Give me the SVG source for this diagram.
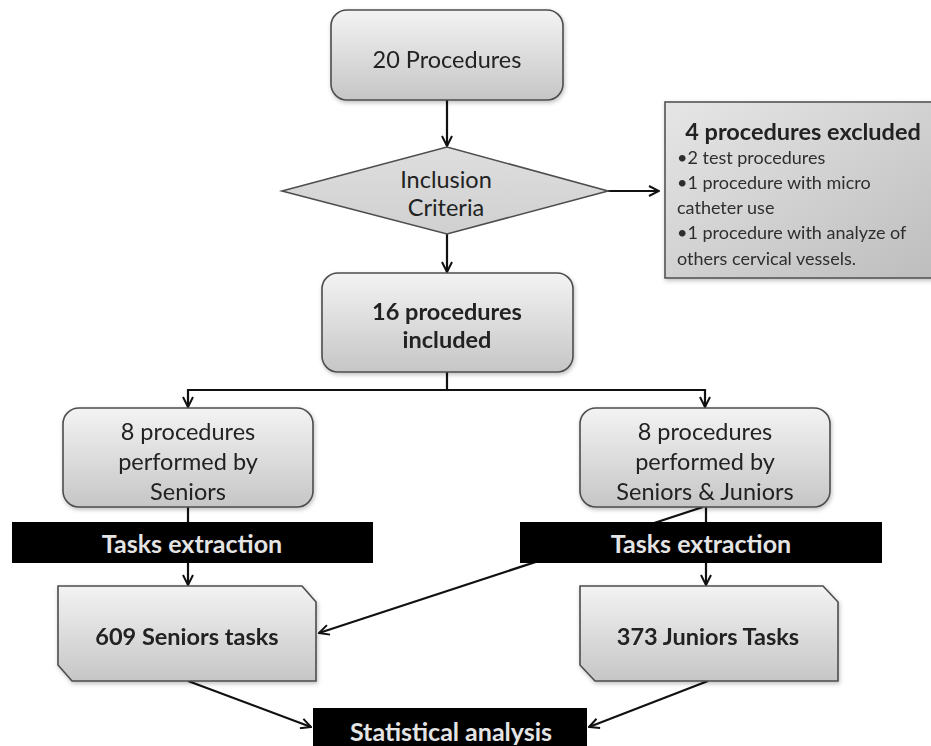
<svg xmlns="http://www.w3.org/2000/svg" width="931" height="746" viewBox="0 0 931 746">
<style>
.box{fill:url(#g);stroke:#4d4d4d;stroke-width:1.6}
.exc{fill:url(#g2);stroke:#555;stroke-width:1.6}
.dia{fill:url(#g3);stroke:#4d4d4d;stroke-width:1.6}
.bar{fill:#000}
.t{font-family:Lato,"Liberation Sans",sans-serif;font-size:23.5px;fill:#222;text-anchor:middle}
.b{font-weight:bold}
.w{font-family:Lato,"Liberation Sans",sans-serif;font-size:25px;font-weight:bold;fill:#e4e4e4;text-anchor:middle}
.s{font-family:Lato,"Liberation Sans",sans-serif;font-size:18px;fill:#2e2e2e}
.c{fill:none;stroke:#111;stroke-width:2.2}
</style>
<defs>
<linearGradient id="g" x1="0" y1="0" x2="0" y2="1">
<stop offset="0" stop-color="#f3f3f3"/><stop offset="1" stop-color="#c6c6c6"/>
</linearGradient>
<linearGradient id="g2" x1="0" y1="0" x2="1" y2="1">
<stop offset="0" stop-color="#e6e6e6"/><stop offset="1" stop-color="#bdbdbd"/>
</linearGradient>
<linearGradient id="g3" x1="0" y1="0" x2="0" y2="1">
<stop offset="0" stop-color="#dedede"/><stop offset="1" stop-color="#d0d0d0"/>
</linearGradient>
<filter id="sh" x="-10%" y="-10%" width="120%" height="130%">
<feDropShadow dx="1" dy="2" stdDeviation="2" flood-color="#000" flood-opacity="0.25"/>
</filter>
<marker id="a" viewBox="0 0 12 12" refX="11" refY="6" markerWidth="12" markerHeight="12" markerUnits="userSpaceOnUse" orient="auto">
<path d="M1,1 L11,6 L1,11" fill="none" stroke="#111" stroke-width="2"/>
</marker>
</defs>
<g id="connectors">
<line class="c" x1="447" y1="100" x2="447" y2="146" marker-end="url(#a)"/>
<line class="c" x1="608" y1="191" x2="659" y2="191" marker-end="url(#a)"/>
<line class="c" x1="447" y1="234" x2="447" y2="272" marker-end="url(#a)"/>
<polyline class="c" points="447,372 447,390 188,390 188,407" marker-end="url(#a)"/>
<polyline class="c" points="447,390 705,390 705,407" marker-end="url(#a)"/>
<line class="c" x1="188" y1="507" x2="188" y2="585" marker-end="url(#a)"/>
<line class="c" x1="706" y1="507" x2="706" y2="585" marker-end="url(#a)"/>
<line class="c" x1="703" y1="507" x2="319" y2="633" marker-end="url(#a)"/>
<line class="c" x1="188" y1="681" x2="311" y2="727" marker-end="url(#a)"/>
<line class="c" x1="708" y1="681" x2="589" y2="727" marker-end="url(#a)"/>
</g>
<g id="n20" filter="url(#sh)">
<rect class="box" x="331" y="10" width="232" height="90" rx="16"/>
<text class="t" x="447" y="68">20 Procedures</text>
</g>
<g id="inclusion">
<polygon class="dia" points="282,191 447,147 608,191 447,234"/>
<text class="t" x="446" y="188">Inclusion</text>
<text class="t" x="446" y="216">Criteria</text>
</g>
<g id="excluded" filter="url(#sh)">
<rect class="exc" x="665" y="102" width="272" height="176"/>
<text class="t b" x="803" y="140" style="font-size:23.5px">4 procedures excluded</text>
<text class="s" x="677" y="164">•2 test procedures</text>
<text class="s" x="677" y="189">•1 procedure with micro</text>
<text class="s" x="677" y="214">catheter use</text>
<text class="s" x="677" y="239">•1 procedure with analyze of</text>
<text class="s" x="677" y="265">others cervical vessels.</text>
</g>
<g id="included" filter="url(#sh)">
<rect class="box" x="322" y="273" width="251" height="99" rx="16"/>
<text class="t b" x="447" y="320">16 procedures</text>
<text class="t b" x="447" y="348">included</text>
</g>
<g id="seniors" filter="url(#sh)">
<rect class="box" x="63" y="408" width="250" height="99" rx="16"/>
<text class="t" x="188" y="440">8 procedures</text>
<text class="t" x="188" y="470">performed by</text>
<text class="t" x="188" y="500">Seniors</text>
</g>
<g id="seniorsjuniors" filter="url(#sh)">
<rect class="box" x="580" y="408" width="250" height="99" rx="16"/>
<text class="t" x="705" y="440">8 procedures</text>
<text class="t" x="705" y="470">performed by</text>
<text class="t" x="705" y="500">Seniors &amp; Juniors</text>
</g>
<g id="extract1">
<rect class="bar" x="12" y="522" width="361" height="41"/>
<text class="w" x="192" y="553">Tasks extraction</text>
</g>
<g id="extract2">
<rect class="bar" x="520" y="522" width="362" height="41"/>
<text class="w" x="701" y="553">Tasks extraction</text>
</g>
<g id="seniortasks" filter="url(#sh)">
<polygon class="box" points="58,586 302,586 316,602 316,681 72,681 58,665"/>
<text class="t b" x="187" y="645">609 Seniors tasks</text>
</g>
<g id="juniortasks" filter="url(#sh)">
<polygon class="box" points="580,586 823,586 838,602 838,681 595,681 580,665"/>
<text class="t b" x="708" y="645">373 Juniors Tasks</text>
</g>
<g id="stats">
<rect class="bar" x="313" y="708" width="274" height="40"/>
<text class="w" x="451" y="741">Statistical analysis</text>
</g>
</svg>
